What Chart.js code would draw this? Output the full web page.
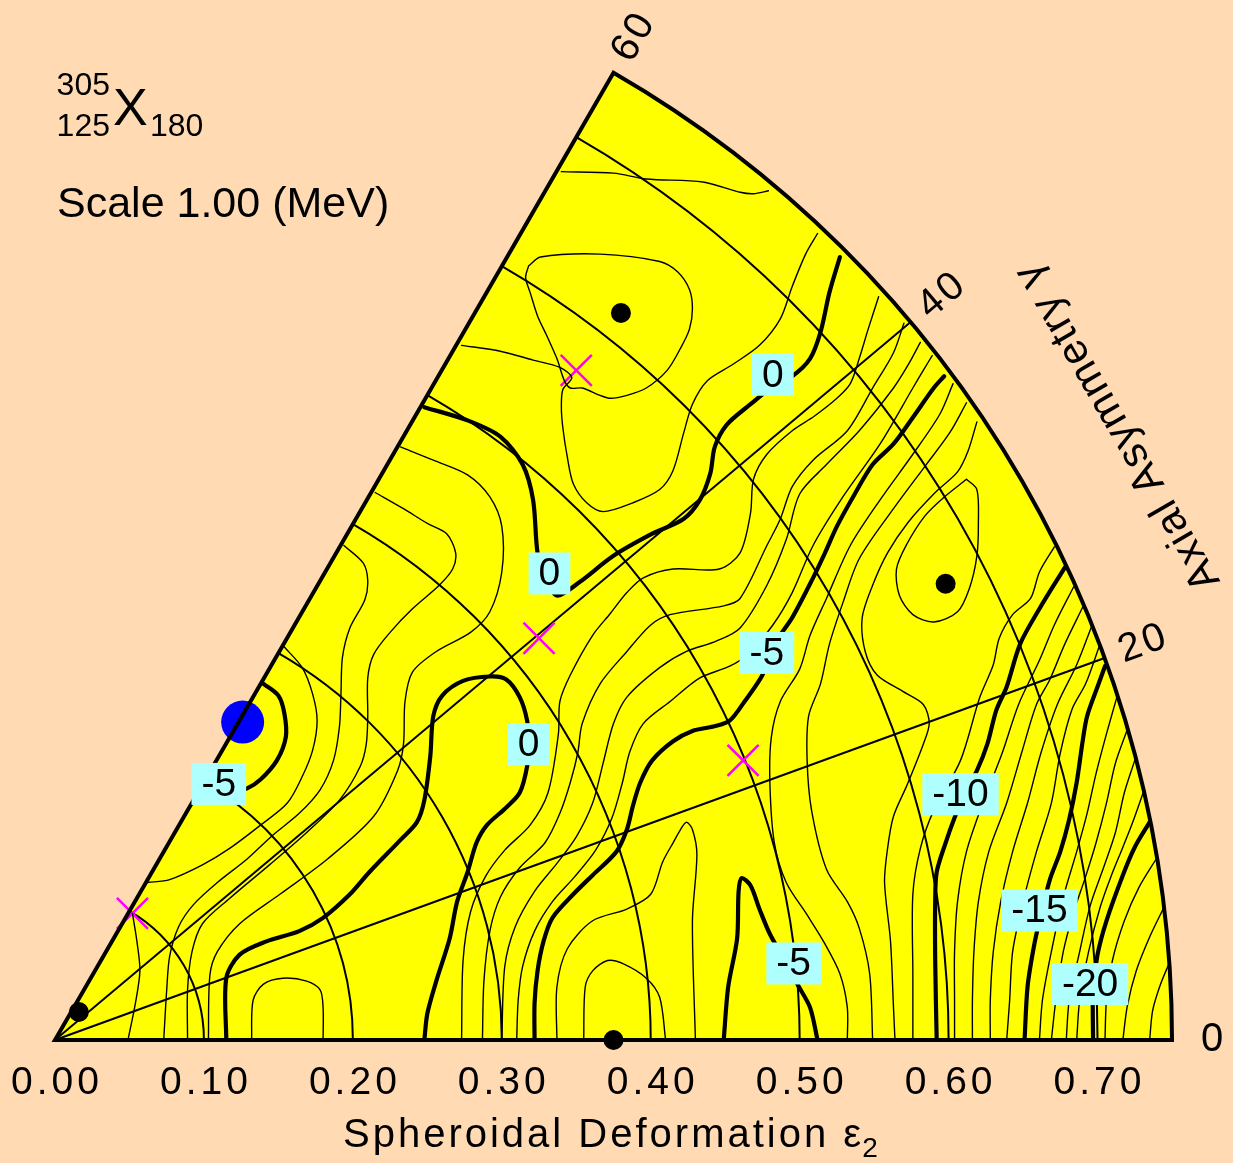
<!DOCTYPE html>
<html>
<head>
<meta charset="utf-8">
<title>Potential energy surface 305X</title>
<script src="https://cdn.jsdelivr.net/npm/chart.js@4.4.0/dist/chart.umd.min.js"></script>
<style>
  html, body { margin: 0; padding: 0; background: #FFDAB3; }
  #wrap { width: 1233px; height: 1163px; }
</style>
</head>
<body>
<div id="wrap"><canvas id="pes" width="1233" height="1163"></canvas></div>
<script>
// axes
const epsTicks = [0, 0.1, 0.2, 0.3, 0.4, 0.5, 0.6, 0.7];
const epsGrid = [0.1, 0.2, 0.3, 0.4, 0.5, 0.6, 0.7];
const gammaTicks = [0, 20, 40, 60];
const gammaGrid = [20, 40];
const epsMax = 0.75;

// contour lines, points as [eps*cos(gamma), eps*sin(gamma)]
// thick lines (0, -5, -10, -15, -20 MeV)
const c0Lower = [[0.115,0],[0.115,0.042],[0.124,0.058],[0.142,0.067],[0.164,0.074],[0.180,0.083],[0.198,0.099],[0.211,0.114],[0.232,0.136],[0.243,0.148],[0.248,0.163],[0.252,0.193],[0.254,0.220],[0.260,0.234],[0.274,0.244],[0.292,0.247],[0.303,0.245],[0.312,0.233],[0.317,0.217],[0.318,0.201],[0.317,0.186],[0.312,0.168],[0.303,0.158],[0.290,0.146],[0.283,0.134],[0.277,0.114],[0.270,0.094],[0.265,0.069],[0.256,0.040],[0.250,0.018],[0.248,0]];
const c0Upper = [[0.248,0.430],[0.277,0.421],[0.299,0.410],[0.314,0.391],[0.321,0.367],[0.324,0.331],[0.329,0.314],[0.337,0.302],[0.352,0.311],[0.375,0.329],[0.401,0.344],[0.422,0.354],[0.433,0.367],[0.440,0.385],[0.443,0.403],[0.451,0.418],[0.467,0.432],[0.482,0.444],[0.495,0.451],[0.507,0.463],[0.514,0.481],[0.520,0.508],[0.527,0.532]];
const cm5Left = [[0.140,0.242],[0.150,0.234],[0.154,0.222],[0.155,0.206],[0.149,0.190],[0.138,0.177],[0.129,0.171],[0.107,0.163]];
const cm5Mid = [[0.597,0.451],[0.590,0.443],[0.576,0.423],[0.563,0.405],[0.549,0.391],[0.537,0.371],[0.525,0.349],[0.517,0.331],[0.509,0.314],[0.495,0.287],[0.483,0.269],[0.475,0.248],[0.463,0.230],[0.453,0.217],[0.442,0.213],[0.428,0.210],[0.415,0.203],[0.401,0.190],[0.393,0.175],[0.388,0.159],[0.384,0.143],[0.377,0.128],[0.361,0.112],[0.348,0.099],[0.334,0.083],[0.328,0.067],[0.324,0.047],[0.322,0.025],[0.322,0]];
const cm5Tongue = [[0.449,0],[0.452,0.036],[0.458,0.069],[0.459,0.101],[0.461,0.110],[0.467,0.105],[0.473,0.089],[0.480,0.072],[0.490,0.054],[0.499,0.037],[0.507,0.022],[0.512,0]];
const cm10 = [[0.678,0.321],[0.661,0.293],[0.648,0.269],[0.639,0.240],[0.632,0.224],[0.626,0.201],[0.619,0.183],[0.611,0.168],[0.604,0.151],[0.598,0.134],[0.592,0.114],[0.591,0.094],[0.591,0.054],[0.592,0]];
const cm15 = [[0.705,0.254],[0.700,0.240],[0.693,0.220],[0.690,0.203],[0.686,0.175],[0.681,0.150],[0.675,0.128],[0.668,0.109],[0.661,0.081],[0.657,0.062],[0.653,0.036],[0.651,0]];
const cm20 = [[0.735,0.148],[0.725,0.131],[0.717,0.112],[0.706,0.081],[0.700,0.058],[0.697,0.034],[0.697,0]];

// thin lines (1 MeV steps)
const t1 = [[0.052,0.086],[0.055,0.067],[0.057,0.047],[0.054,0.025],[0.049,0]];
const t2 = [[0.062,0.107],[0.077,0.109],[0.099,0.119],[0.117,0.130],[0.138,0.146],[0.156,0.161],[0.166,0.179],[0.173,0.197],[0.176,0.217],[0.173,0.235],[0.166,0.253],[0.154,0.267]];
const l3 = [[0.194,0.336],[0.207,0.324],[0.210,0.312],[0.208,0.299],[0.198,0.280],[0.193,0.260],[0.192,0.235],[0.191,0.213],[0.187,0.190],[0.178,0.170],[0.164,0.154],[0.146,0.139],[0.129,0.123],[0.109,0.107],[0.093,0.092],[0.083,0.077],[0.077,0.057],[0.075,0.034],[0.073,0]];
const l4 = [[0.215,0.372],[0.234,0.361],[0.250,0.351],[0.263,0.344],[0.269,0.331],[0.267,0.320],[0.258,0.309],[0.240,0.293],[0.225,0.277],[0.214,0.262],[0.210,0.246],[0.210,0.220],[0.209,0.201],[0.205,0.186],[0.191,0.163],[0.169,0.141],[0.144,0.119],[0.117,0.096],[0.099,0.079],[0.092,0.060],[0.089,0.034],[0.089,0]];
const l5 = [[0.232,0.403],[0.254,0.394],[0.277,0.384],[0.292,0.369],[0.300,0.349],[0.300,0.318],[0.292,0.291],[0.279,0.277],[0.256,0.264],[0.240,0.250],[0.235,0.230],[0.234,0.201],[0.230,0.183],[0.214,0.152],[0.183,0.123],[0.151,0.099],[0.124,0.079],[0.109,0.060],[0.104,0.044],[0.103,0]];
const smallLoop = [[0.132,0],[0.133,0.027],[0.140,0.038],[0.153,0.042],[0.169,0.040],[0.178,0.034],[0.180,0.022],[0.180,0]];
const m1 = [[0.553,0.505],[0.546,0.483],[0.540,0.463],[0.534,0.446],[0.525,0.436],[0.510,0.424],[0.495,0.414],[0.478,0.398],[0.469,0.381],[0.467,0.358],[0.460,0.331],[0.446,0.320],[0.415,0.320],[0.395,0.314],[0.384,0.304],[0.373,0.290],[0.361,0.275],[0.346,0.248],[0.339,0.230],[0.338,0.208],[0.331,0.168],[0.319,0.146],[0.302,0.129],[0.289,0.111],[0.279,0.087],[0.274,0.054],[0.273,0]];
const m2 = [[0.570,0.487],[0.563,0.467],[0.549,0.443],[0.532,0.414],[0.509,0.394],[0.495,0.376],[0.487,0.354],[0.478,0.336],[0.460,0.300],[0.449,0.295],[0.413,0.289],[0.400,0.282],[0.384,0.264],[0.366,0.242],[0.354,0.215],[0.351,0.195],[0.346,0.175],[0.339,0.154],[0.329,0.134],[0.312,0.117],[0.299,0.097],[0.292,0.074],[0.288,0.040],[0.287,0]];
const m3 = [[0.581,0.474],[0.573,0.459],[0.563,0.443],[0.540,0.414],[0.518,0.391],[0.500,0.371],[0.491,0.340],[0.478,0.309],[0.460,0.280],[0.444,0.271],[0.424,0.264],[0.406,0.253],[0.384,0.233],[0.375,0.215],[0.368,0.188],[0.361,0.161],[0.350,0.138],[0.337,0.120],[0.322,0.101],[0.309,0.077],[0.302,0.050],[0.300,0]];
const m4 = [[0.589,0.465],[0.583,0.455],[0.576,0.443],[0.554,0.405],[0.529,0.369],[0.509,0.336],[0.495,0.304],[0.482,0.282],[0.465,0.262],[0.453,0.254],[0.433,0.246],[0.413,0.230],[0.395,0.215],[0.386,0.196],[0.381,0.175],[0.374,0.151],[0.363,0.129],[0.349,0.111],[0.334,0.094],[0.322,0.074],[0.314,0.050],[0.311,0.027],[0.310,0]];
const saddleLine = [[0.273,0.472],[0.299,0.468],[0.321,0.462],[0.339,0.457],[0.347,0.450],[0.341,0.442],[0.340,0.430],[0.341,0.416],[0.344,0.396],[0.348,0.378],[0.357,0.365],[0.368,0.359],[0.388,0.365],[0.406,0.374],[0.415,0.387],[0.422,0.412],[0.428,0.432],[0.438,0.448],[0.455,0.459],[0.473,0.472],[0.487,0.490],[0.495,0.512],[0.504,0.534],[0.512,0.548]];
const loopTop = [[0.318,0.526],[0.326,0.532],[0.366,0.534],[0.406,0.529],[0.418,0.522],[0.426,0.510],[0.428,0.497],[0.426,0.483],[0.420,0.470],[0.411,0.455],[0.397,0.443],[0.384,0.438],[0.373,0.436],[0.366,0.438],[0.354,0.443],[0.346,0.443],[0.342,0.448],[0.337,0.463],[0.330,0.479],[0.324,0.492],[0.319,0.508],[0.316,0.518],[0.318,0.526]];
const topLine = [[0.340,0.590],[0.375,0.589],[0.397,0.585],[0.435,0.583],[0.460,0.576],[0.469,0.575],[0.479,0.577]];
const tongue6 = [[0.337,0],[0.337,0.036],[0.344,0.062],[0.361,0.081],[0.384,0.089],[0.400,0.099],[0.408,0.121],[0.415,0.134],[0.420,0.143],[0.424,0.148],[0.428,0.143],[0.431,0.126],[0.428,0.081],[0.430,0]];
const loopBottom = [[0.355,0],[0.356,0.036],[0.361,0.047],[0.371,0.054],[0.381,0.052],[0.397,0.042],[0.406,0.029],[0.410,0]];
const r6 = [[0.603,0.446],[0.594,0.425],[0.576,0.398],[0.554,0.367],[0.534,0.336],[0.518,0.300],[0.507,0.275],[0.500,0.252],[0.487,0.230],[0.481,0.206],[0.480,0.175],[0.483,0.134],[0.491,0.107],[0.505,0.085],[0.516,0.067],[0.527,0.045],[0.532,0.022],[0.532,0]];
const r7 = [[0.612,0.433],[0.601,0.413],[0.585,0.391],[0.563,0.361],[0.540,0.327],[0.529,0.297],[0.520,0.269],[0.514,0.242],[0.506,0.220],[0.505,0.190],[0.508,0.156],[0.518,0.116],[0.532,0.094],[0.540,0.076],[0.547,0.045],[0.549,0]];
const r8 = [[0.619,0.420],[0.613,0.400],[0.606,0.386],[0.591,0.372],[0.573,0.352],[0.559,0.331],[0.549,0.309],[0.542,0.287],[0.544,0.264],[0.552,0.248],[0.569,0.237],[0.583,0.228],[0.587,0.215],[0.583,0.201],[0.572,0.173],[0.563,0.152],[0.559,0.130],[0.557,0.107],[0.561,0.067],[0.563,0.022],[0.564,0]];
const r9 = [[0.671,0.335],[0.661,0.318],[0.655,0.300],[0.643,0.289],[0.634,0.273],[0.630,0.255],[0.621,0.233],[0.608,0.190],[0.590,0.156],[0.581,0.130],[0.576,0.099],[0.576,0.045],[0.576,0]];
const loopRight = [[0.612,0.381],[0.619,0.374],[0.620,0.351],[0.619,0.329],[0.614,0.307],[0.606,0.291],[0.590,0.284],[0.576,0.289],[0.567,0.302],[0.565,0.320],[0.572,0.337],[0.584,0.356],[0.596,0.368],[0.612,0.381]];
const fg1 = [[0.684,0.308],[0.671,0.282],[0.661,0.258],[0.647,0.228],[0.636,0.195],[0.623,0.161],[0.612,0.128],[0.606,0.094],[0.604,0.060],[0.604,0.027],[0.604,0]];
const fg2 = [[0.690,0.294],[0.678,0.269],[0.668,0.245],[0.659,0.228],[0.649,0.195],[0.639,0.161],[0.627,0.128],[0.620,0.094],[0.617,0.060],[0.616,0.027],[0.616,0]];
const fg3 = [[0.696,0.281],[0.686,0.255],[0.673,0.228],[0.662,0.195],[0.653,0.161],[0.643,0.128],[0.635,0.094],[0.630,0.060],[0.628,0.027],[0.628,0]];
const fg4 = [[0.701,0.267],[0.692,0.242],[0.683,0.225],[0.675,0.195],[0.669,0.161],[0.659,0.128],[0.650,0.094],[0.643,0.060],[0.641,0.027],[0.639,0]];
const gh1 = [[0.713,0.233],[0.706,0.208],[0.699,0.181],[0.693,0.154],[0.686,0.128],[0.677,0.097],[0.669,0.060],[0.663,0.027],[0.661,0]];
const gh2 = [[0.720,0.211],[0.712,0.188],[0.706,0.161],[0.699,0.134],[0.692,0.111],[0.684,0.087],[0.677,0.060],[0.672,0.027],[0.669,0]];
const gh3 = [[0.725,0.190],[0.718,0.168],[0.712,0.141],[0.704,0.117],[0.695,0.091],[0.688,0.060],[0.681,0.027],[0.679,0]];
const gh4 = [[0.731,0.169],[0.724,0.149],[0.717,0.131],[0.709,0.111],[0.702,0.091],[0.694,0.060],[0.688,0.027],[0.686,0]];
const ha1 = [[0.740,0.124],[0.728,0.104],[0.718,0.081],[0.710,0.054],[0.706,0.027],[0.705,0]];
const ha2 = [[0.745,0.091],[0.735,0.070],[0.726,0.047],[0.720,0.023],[0.717,0]];
const ha3 = [[0.748,0.052],[0.742,0.037],[0.737,0.020],[0.735,0]];

const thickLines = [c0Lower, c0Upper, cm5Left, cm5Mid, cm5Tongue, cm10, cm15, cm20];
const thinLines = [t1, t2, l3, l4, l5, smallLoop, m1, m2, m3, m4, saddleLine, loopTop, topLine,
  tongue6, loopBottom, r6, r7, r8, r9, loopRight, fg1, fg2, fg3, fg4, gh1, gh2, gh3, gh4, ha1, ha2, ha3];

// contour labels
const levelText = ['-5', '0', '0', '-5', '0', '-10', '-15', '-5', '-20'];
const levelX = [0.110, 0.482, 0.332, 0.478, 0.318, 0.608, 0.661, 0.496, 0.695];
const levelY = [0.174, 0.452, 0.317, 0.263, 0.201, 0.167, 0.088, 0.052, 0.038];

// minima, saddle points, ground state
const minX = [0.016, 0.380, 0.598, 0.375];
const minY = [0.019, 0.494, 0.310, 0];
const saddleX = [0.350, 0.325, 0.462, 0.052];
const saddleY = [0.455, 0.273, 0.190, 0.086];
const groundX = [0.126];
const groundY = [0.216];

const PEACH = '#FFDAB3';
const FONT = '"Liberation Sans", Arial, Helvetica, sans-serif';

const toPts = arr => arr.map(p => ({ x: p[0], y: p[1] }));
const zipPts = (xs, ys) => xs.map((v, i) => ({ x: v, y: ys[i] }));

function wedgePath(ctx, ox, oy, R) {
  ctx.beginPath();
  ctx.moveTo(ox, oy);
  ctx.lineTo(ox + R, oy);
  ctx.arc(ox, oy, R, 0, -Math.PI / 3, true);
  ctx.closePath();
}

const polarDeco = {
  id: 'polarDeco',
  beforeDraw(chart) {
    const ctx = chart.ctx;
    ctx.save();
    ctx.fillStyle = PEACH;
    ctx.fillRect(0, 0, chart.width, chart.height);
    ctx.restore();
  },
  beforeDatasetsDraw(chart) {
    const { ctx, scales: { x, y } } = chart;
    const ox = x.getPixelForValue(0), oy = y.getPixelForValue(0);
    const R = x.getPixelForValue(epsMax) - ox;
    ctx.save();
    wedgePath(ctx, ox, oy, R);
    ctx.fillStyle = '#FFFF00';
    ctx.fill();
    ctx.strokeStyle = '#000';
    ctx.lineWidth = 2;
    epsGrid.forEach(e => {
      const r = x.getPixelForValue(e) - ox;
      ctx.beginPath();
      ctx.arc(ox, oy, r, 0, -Math.PI / 3, true);
      ctx.stroke();
    });
    gammaGrid.forEach(g => {
      const a = g * Math.PI / 180;
      ctx.beginPath();
      ctx.moveTo(ox, oy);
      ctx.lineTo(ox + R * Math.cos(a), oy - R * Math.sin(a));
      ctx.stroke();
    });
    ctx.restore();
  },
  afterDatasetsDraw(chart) {
    const { ctx, scales: { x, y } } = chart;
    const ox = x.getPixelForValue(0), oy = y.getPixelForValue(0);
    const R = x.getPixelForValue(epsMax) - ox;
    ctx.save();
    // wedge outline
    wedgePath(ctx, ox, oy, R);
    ctx.strokeStyle = '#000';
    ctx.lineWidth = 4;
    ctx.stroke();

    // contour value boxes
    ctx.font = '39px ' + FONT;
    ctx.textAlign = 'center';
    ctx.textBaseline = 'middle';
    levelText.forEach((t, i) => {
      const px = x.getPixelForValue(levelX[i]), py = y.getPixelForValue(levelY[i]);
      const w = ctx.measureText(t).width + 20;
      ctx.fillStyle = '#B0FFFF';
      ctx.fillRect(px - w / 2, py - 21, w, 42);
      ctx.fillStyle = '#000';
      ctx.fillText(t, px, py + 1);
    });

    // eps tick labels
    ctx.font = '39px ' + FONT;
    ctx.letterSpacing = '4px';
    epsTicks.forEach(v => {
      ctx.fillText(v.toFixed(2), x.getPixelForValue(v) + 2, oy + 43);
    });

    // gamma tick labels
    ctx.font = '40px ' + FONT;
    ctx.letterSpacing = '3px';
    const rl = x.getPixelForValue(0.778) - ox;
    gammaTicks.forEach(g => {
      const a = g * Math.PI / 180;
      ctx.save();
      ctx.translate(ox + rl * Math.cos(a), oy - rl * Math.sin(a));
      ctx.rotate(-a);
      ctx.fillText(String(g), 0, 0);
      ctx.restore();
    });

    // gamma axis title
    ctx.font = '42px ' + FONT;
    ctx.letterSpacing = '1.5px';
    const rt = x.getPixelForValue(0.824) - ox;
    const at = 30 * Math.PI / 180;
    ctx.save();
    ctx.translate(ox + rt * Math.cos(at), oy - rt * Math.sin(at));
    ctx.rotate(-2 * Math.PI / 3);
    ctx.fillText('Axial Asymmetry \u03b3', 0, 0);
    ctx.restore();

    // eps axis title with subscript
    ctx.textAlign = 'left';
    ctx.textBaseline = 'alphabetic';
    ctx.font = '40px ' + FONT;
    ctx.letterSpacing = '3px';
    const main = 'Spheroidal Deformation \u03b5';
    ctx.fillText(main, 343, 1147);
    const mw = ctx.measureText(main).width;
    ctx.font = '28px ' + FONT;
    ctx.letterSpacing = '0px';
    ctx.fillText('2', 343 + mw - 2, 1157);

    // nucleus symbol and scale
    ctx.font = '32px ' + FONT;
    ctx.textAlign = 'right';
    ctx.fillText('305', 110, 95);
    ctx.fillText('125', 110, 136);
    ctx.textAlign = 'left';
    ctx.font = '52px ' + FONT;
    ctx.fillText('X', 113, 125);
    ctx.font = '32px ' + FONT;
    ctx.fillText('180', 150, 136);
    ctx.font = '43px ' + FONT;
    ctx.fillText('Scale 1.00 (MeV)', 57, 217);
    ctx.restore();
  }
};

const datasets = [];
thinLines.forEach(c => datasets.push({
  data: toPts(c), showLine: true, borderColor: '#000', borderWidth: 1.4,
  pointRadius: 0, tension: 0.3, borderJoinStyle: 'round', borderCapStyle: 'round'
}));
thickLines.forEach(c => datasets.push({
  data: toPts(c), showLine: true, borderColor: '#000', borderWidth: 4.2,
  pointRadius: 0, tension: 0.3, borderJoinStyle: 'round', borderCapStyle: 'round'
}));
datasets.push({
  data: zipPts(minX, minY), showLine: false, pointRadius: 10,
  pointBackgroundColor: '#000', pointBorderWidth: 0, clip: false
});
datasets.push({
  data: zipPts(saddleX, saddleY), showLine: false, pointStyle: 'crossRot', pointRadius: 22,
  pointBorderColor: '#FF00FF', pointBorderWidth: 2.5, clip: false
});
datasets.push({
  data: zipPts(groundX, groundY), showLine: false, pointRadius: 21.5,
  pointBackgroundColor: '#0000FF', pointBorderWidth: 0, clip: false
});

new Chart(document.getElementById('pes'), {
  type: 'scatter',
  data: { datasets },
  options: {
    responsive: false,
    devicePixelRatio: 1,
    animation: false,
    events: [],
    layout: { padding: { left: 55, right: 61, top: 12, bottom: 123 } },
    plugins: { legend: { display: false }, tooltip: { enabled: false } },
    scales: {
      x: { type: 'linear', min: 0, max: epsMax, display: false },
      y: { type: 'linear', min: 0, max: 0.69, display: false }
    }
  },
  plugins: [polarDeco]
});
</script>
</body>
</html>
